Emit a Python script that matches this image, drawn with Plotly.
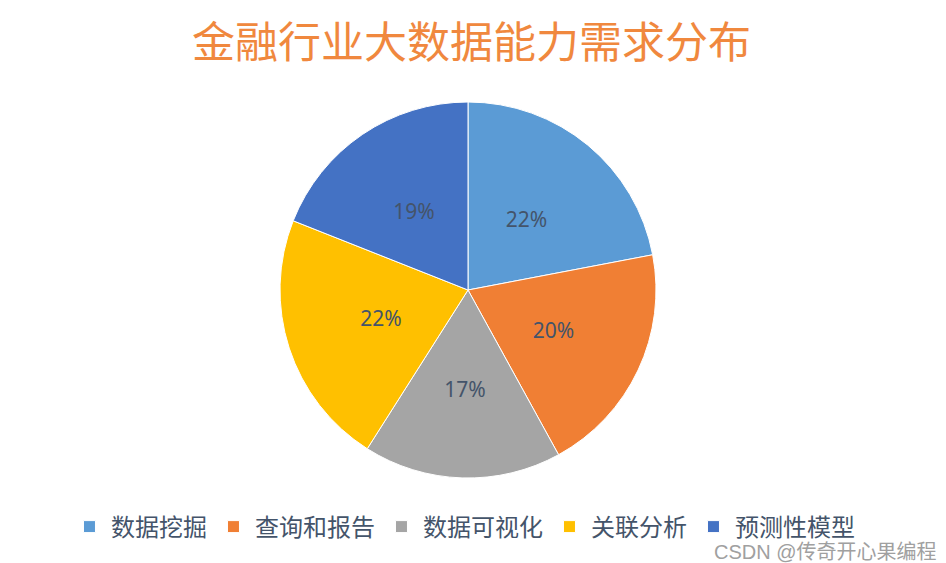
import plotly.graph_objects as go

# share of each ability in the finance industry (percent)
labels = ["数据挖掘", "查询和报告", "数据可视化", "关联分析", "预测性模型"]
values = [22, 20, 17, 22, 19]
colors = ["#5B9BD5", "#F07F34", "#A5A5A5", "#FFC000", "#4472C4"]

W, H = 946, 563
cx, cy, r = 460, 282, 188


def dom(rad):
    return dict(x=[(cx - rad) / W, (cx + rad) / W], y=[1 - (cy + rad) / H, 1 - (cy - rad) / H])


fig = go.Figure()

fig.add_trace(go.Pie(
    labels=labels,
    values=values,
    sort=False,
    direction="clockwise",
    rotation=0,
    marker=dict(colors=colors, line=dict(color="white", width=1)),
    textinfo="none",
    hoverinfo="label+percent",
    domain=dom(r),
))

# transparent smaller pie that only carries the percent labels (closer to centre)
fig.add_trace(go.Pie(
    labels=labels,
    values=values,
    sort=False,
    direction="clockwise",
    rotation=0,
    marker=dict(colors=["rgba(0,0,0,0)"] * 5, line=dict(width=0)),
    texttemplate="%{percent:.0%}",
    textposition="inside",
    insidetextorientation="horizontal",
    textfont=dict(family="Noto Sans, Open Sans, sans-serif", size=21, color="#44546A"),
    hoverinfo="skip",
    showlegend=False,
    domain=dom(150),
))

fig.update_layout(
    width=W,
    height=H,
    margin=dict(l=0, r=0, t=0, b=0),
    paper_bgcolor="white",
    plot_bgcolor="white",
    title=dict(
        text="金融行业大数据能力需求分布",
        x=0.49,
        xanchor="center",
        y=1 - 35 / H,
        yanchor="middle",
        font=dict(family="Noto Sans CJK SC", size=43, color="#F0883E"),
    ),
    showlegend=True,
    legend=dict(
        orientation="h",
        x=0.482,
        xanchor="center",
        y=1 - 519 / H,
        yanchor="middle",
        font=dict(family="Noto Sans CJK SC", size=24, color="#44546A"),
        itemwidth=33,
        traceorder="normal",
    ),
)

fig.add_annotation(
    text="CSDN @传奇开心果编程",
    xref="paper", yref="paper",
    x=1 - 15 / W, y=1 - 544 / H,
    xanchor="right", yanchor="middle",
    showarrow=False,
    font=dict(family="Liberation Sans, Noto Sans CJK SC", size=20, color="#A0A0A0"),
)

fig.write_html("out.html")
